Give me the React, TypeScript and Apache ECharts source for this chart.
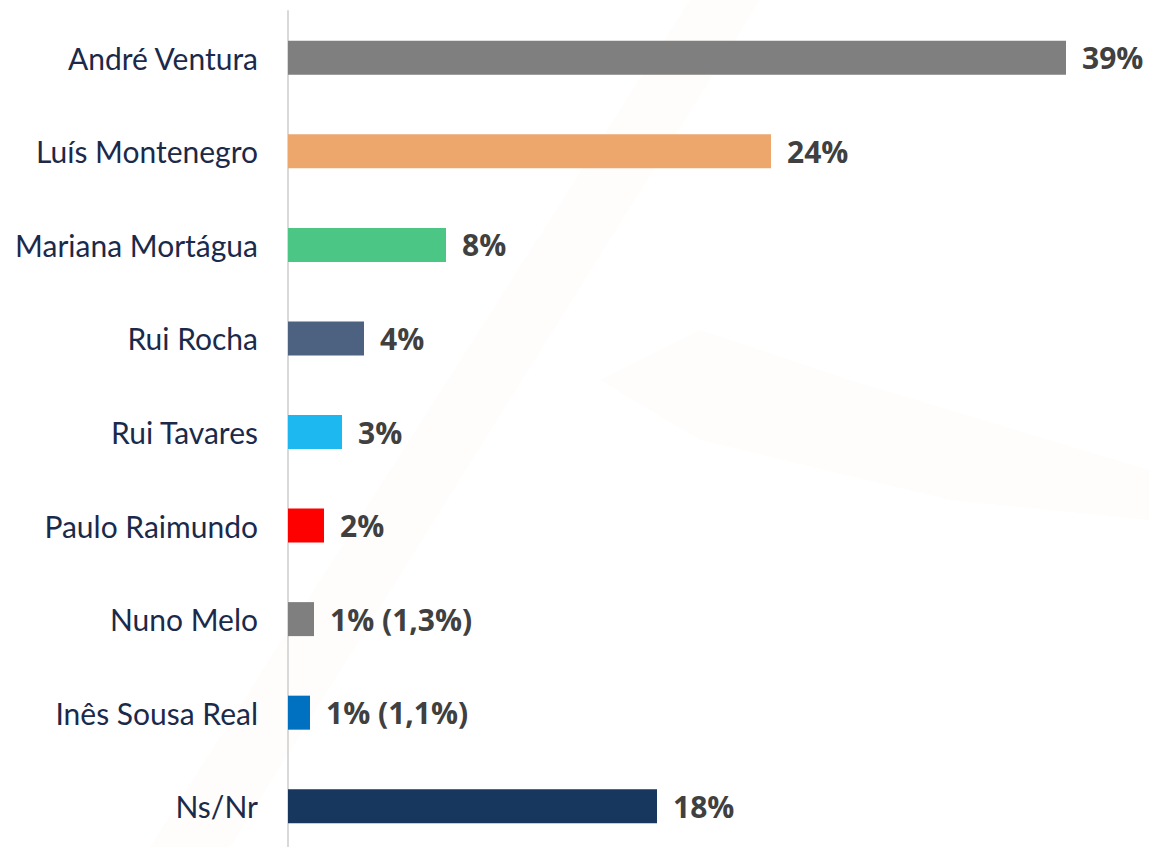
import React, { useEffect, useRef } from "react";
import * as echarts from "echarts";

const categories = [
  "André Ventura",
  "Luís Montenegro",
  "Mariana Mortágua",
  "Rui Rocha",
  "Rui Tavares",
  "Paulo Raimundo",
  "Nuno Melo",
  "Inês Sousa Real",
  "Ns/Nr",
];
const values = [38.9, 24.15, 7.9, 3.8, 2.7, 1.8, 1.3, 1.1, 18.45];
const valueLabels = ["39%", "24%", "8%", "4%", "3%", "2%", "1% (1,3%)", "1% (1,1%)", "18%"];
const barColors = [
  "#7F7F7F",
  "#EDA66C",
  "#4CC685",
  "#4D6280",
  "#1CB8EF",
  "#FF0000",
  "#7F7F7F",
  "#0070C0",
  "#17375E",
];

export default function App() {
  const ref = useRef<HTMLDivElement>(null);
  useEffect(() => {
    document.body.style.margin = "0";
    const chart = echarts.init(ref.current!, null, { renderer: "svg" });
    const option = {
      animation: false,
      backgroundColor: "#FFFFFF",
      graphic: [
        {
          type: "polygon",
          silent: true,
          z: -10,
          shape: { points: [[150, 847], [230, 847], [760, 0], [690, 0]] },
          style: { fill: "#FBF1E2", opacity: 0.15 },
        },
        {
          type: "polygon",
          silent: true,
          z: -10,
          shape: {
            points: [[600, 380], [700, 330], [850, 380], [1149, 470], [1149, 520], [950, 500], [700, 440]],
          },
          style: { fill: "#FBF1E2", opacity: 0.12 },
        },
      ],
      grid: {
        left: 288,
        top: 11,
        width: 800,
        height: 842,
        containLabel: false,
        outerBoundsMode: "none",
      },
      xAxis: {
        type: "value",
        min: 0,
        max: 40,
        show: false,
      },
      yAxis: {
        type: "category",
        data: categories,
        inverse: true,
        axisLine: { show: true, lineStyle: { color: "#D9D9D9", width: 2 } },
        axisTick: { show: false },
        axisLabel: {
          margin: 30,
          fontFamily: "Lato",
          fontSize: 30,
          color: "#1B2A4A",
        },
        splitLine: { show: false },
      },
      series: [
        {
          type: "bar",
          barWidth: 34,
          data: values.map((v, i) => ({
            value: v,
            itemStyle: { color: barColors[i] },
          })),
          label: {
            show: true,
            position: "right",
            distance: 16,
            fontFamily: "Open Sans",
            fontWeight: "bold",
            fontSize: 30,
            color: "#404040",
            formatter: (p: any) => valueLabels[p.dataIndex],
          },
        },
      ],
    };
    chart.setOption(option);
    return () => chart.dispose();
  }, []);
  return <div ref={ref} style={{ position: "fixed", left: 0, top: 0, width: 1149, height: 847 }} />;
}
